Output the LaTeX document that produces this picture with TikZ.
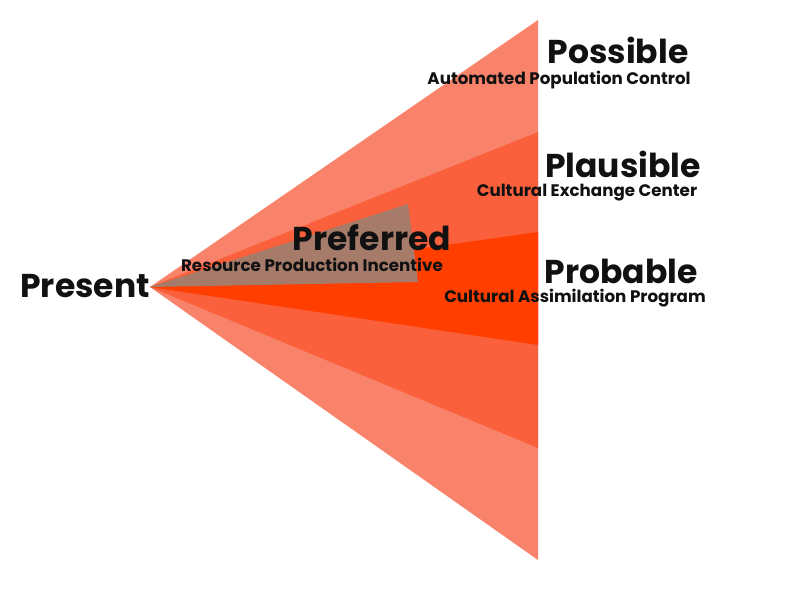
\documentclass[tikz,border=0pt]{standalone}
\usepackage{fontspec}
\setmainfont{Poppins}
\usetikzlibrary{positioning}
\definecolor{Salmon}{HTML}{F9836A}
\definecolor{Coral}{HTML}{FA603C}
\definecolor{Flame}{HTML}{FF3E00}
\definecolor{Taupe}{HTML}{A67B6A}
\definecolor{Ink}{HTML}{111111}

\begin{document}
\begin{tikzpicture}[x=1pt,y=-1pt,
    title/.style={anchor=base,inner sep=0pt,text=Ink,font=\fontsize{33}{37}\selectfont\bfseries},
    sub/.style={anchor=base,inner sep=0pt,text=Ink,font=\fontsize{16.7}{19}\selectfont\bfseries},
    wedge/.style={draw=none}
  ]
    \useasboundingbox (0,0) rectangle (792,590);
    \coordinate (apex) at (150,287);
    % the cone, widest first
    \fill[wedge,Salmon] (apex) -- (538,20) -- (538,560) -- cycle;
    \fill[wedge,Coral] (apex) -- (538,132) -- (538,448) -- cycle;
    \fill[wedge,Flame] (apex) -- (538,232) -- (538,345) -- cycle;
    \fill[wedge,Taupe] (apex) -- (408,204) -- (418,282) -- cycle;
    % labels
    \node[title] (present) at (85,297) {Present};
    \node[title] (possible) at (618,63) {Possible};
    \node[sub] (possiblesub) at (559,84) {Automated Population Control};
    \node[title] (plausible) at (623,177) {Plausible};
    \node[sub] (plausiblesub) at (587,196) {Cultural Exchange Center};
    \node[title] (preferred) at (372,250) {Preferred};
    \node[sub] (preferredsub) at (312,271) {Resource Production Incentive};
    \node[title] (probable) at (621,283) {Probable};
    \node[sub] (probablesub) at (575,302) {Cultural Assimilation Program};
  \end{tikzpicture}
\end{document}
